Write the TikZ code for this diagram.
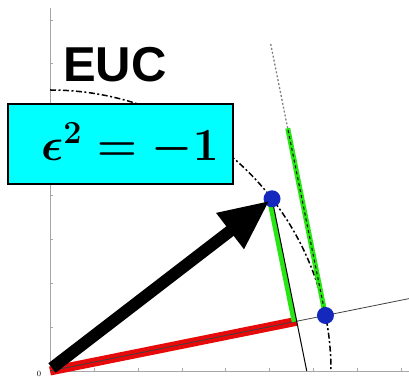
\RequirePackage{fix-cm}
\documentclass[tikz,border=0pt]{standalone}
\usepackage{amsmath,amssymb}
\usepackage{fontspec}
\newfontfamily\eucfont{Liberation Sans}
\usepackage{tikz}
\usetikzlibrary{arrows.meta,calc}
\definecolor{dotblue}{RGB}{20,40,190}
\definecolor{projgreen}{RGB}{40,230,20}
\definecolor{projred}{RGB}{230,10,10}
\definecolor{boxcyan}{RGB}{0,255,255}
\newcommand{\eqfont}{\fontsize{46}{50}\selectfont\boldmath}
\newcommand{\eucsize}{\fontsize{49}{52}\selectfont}

\begin{document}
\begin{tikzpicture}[x=1pt, y=1pt, axis/.style={gray!70, line width=0.8pt}, dot/.style={circle, fill=dotblue, minimum size=17pt, inner sep=0pt}, greenbar/.style={projgreen, line width=5pt}]
	\useasboundingbox (-50,-6) rectangle (359,371);
	\coordinate (O) at (0,0);
	\coordinate (P) at (37.8:281);
	\coordinate (Q) at (11.4:281);
	\coordinate (R) at (11.4:251.7);
	\coordinate (E) at (11.4:366.2);
	\coordinate (B) at ($(P)+(-78.6:175.7)$);
	\coordinate (G) at ($(Q)+(101.4:191)$);
	\coordinate (T) at ($(Q)+(101.4:278.5)$);
	% axes and ticks
	\draw[axis] (O) -- (0,363);
	\draw[axis] (O) -- (359,0);
	\foreach \k in {1,...,8} {\draw[gray!70] (0,\k*43.9) -- (2.5,\k*43.9); \draw[gray!70] (\k*43.9,0) -- (\k*43.9,2.5);}
	\node[font=\footnotesize, anchor=south, inner sep=0pt] (zero) at (-11,-5.5) {0};
	% unit circle
	\draw[line width=1.5pt, dash pattern=on 6pt off 2.5pt on 2pt off 2.5pt] (0,281) arc[start angle=90, end angle=0, radius=281];
	% projections
	\draw[projred, line width=9pt] (O) -- (R);
	\draw[black!75, line width=0.8pt] (O) -- (E);
	\draw[greenbar] ($(P)+(-2.5,-0.5)$) -- ($(R)+(-2.5,-0.5)$);
	\draw[line width=1pt] (P) -- (B);
	\draw[greenbar] (Q) -- (G);
	\draw[line width=1pt, dashed] (Q) -- (G);
	\draw[gray, line width=1.3pt, dash pattern=on 2pt off 2pt] (G) -- (T);
	\node[dot] (p) at (P) {};
	\node[dot] (q) at (Q) {};
	\draw[line width=12pt, -{Triangle[length=50pt, width=42pt]}, shorten >=3pt] (2,3) -- (P);
	% labels
	\node[anchor=base west, inner sep=0pt, font=\eucfont\bfseries\eucsize] (euc) at (13,289) {EUC};
	\node[draw, line width=2pt, fill=boxcyan, minimum width=225pt, minimum height=80pt] (rule) at (70.5,227) {};
	\node[font=\eqfont] (eq) at (80,226) {$\epsilon^2=-1$};
\end{tikzpicture}
\end{document}
